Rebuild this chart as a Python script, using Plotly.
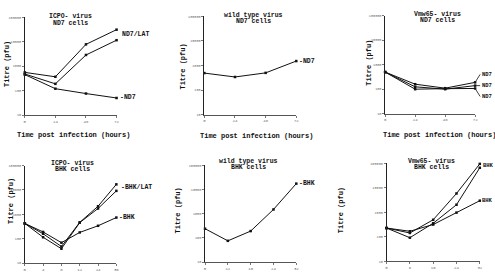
import math
import plotly.graph_objects as go

W, H = 495, 275

# ---------------- data ----------------
# top row: x in hours
tl_x = [0, 24, 48, 72]
tl_lat_a = [560, 370, 7900, 31600]
tl_lat_b = [480, 190, 2900, 11700]
tl_nd7 = [455, 120, 76, 50]

tm_x = [0, 24, 48, 72]
tm_nd7 = [490, 340, 500, 1510]

tr_x = [0, 24, 48, 72]
tr_a = [500, 160, 110, 190]
tr_b = [500, 125, 100, 140]
tr_c = [500, 100, 105, 107]

# bottom row: evenly spaced time points
bl_labels = ["0", "4", "8", "12", "24", "36"]
bl_lat_a = [425, 160, 48, 470, 2150, 17000]
bl_lat_b = [425, 115, 39, 460, 1740, 9200]
bl_bhk = [425, 190, 69, 182, 340, 740]

bm_labels = ["0", "12", "16", "24", "32"]
bm_bhk = [240, 76, 192, 1500, 17500]

br_labels = ["0", "8", "16", "24", "32"]
br_a = [230, 145, 500, 5900, 95000]
br_b = [230, 93, 360, 2050, 66000]
br_bhk = [230, 170, 320, 980, 3000]

y_ticks = [10, 100, 1000, 10000, 100000]
y_text = ["10", "100", "1000", "10000", "100000"]

FONT = "Liberation Mono"
INK = "#111111"

fig = go.Figure()


def dxd(a, b):
    return [a / W, b / W]


def dyd(top, bottom):
    return [1 - bottom / H, 1 - top / H]


panels = [
    ("", (24, 116.5), (15.7, 114.7), [0, 72], tl_x, [str(v) for v in tl_x]),
    ("2", (205, 297.7), (14.5, 114.3), [0, 72], tm_x, [str(v) for v in tm_x]),
    ("3", (387.3, 478), (14, 113.3), [0, 72], tr_x, [str(v) for v in tr_x]),
    ("4", (24, 116.3), (166, 265), [0, len(bl_labels) - 1], list(range(len(bl_labels))), bl_labels),
    ("5", (205.7, 297.7), (165.7, 264), [0, len(bm_labels) - 1], list(range(len(bm_labels))), bm_labels),
    ("6", (388.7, 482.7), (163.7, 263.3), [0, len(br_labels) - 1], list(range(len(br_labels))), br_labels),
]

layout_axes = {}
for name, (xa, xb), (yt, yb), xr, tv, tt in panels:
    layout_axes["xaxis" + name] = dict(
        domain=dxd(xa, xb), range=xr, anchor="y" + name, tickvals=tv, ticktext=tt,
        showline=True, linecolor="#555", linewidth=1, ticks="outside", ticklen=2,
        tickcolor="#777", showgrid=False, zeroline=False,
        tickfont=dict(size=4, color="#666", family=FONT),
    )
    layout_axes["yaxis" + name] = dict(
        domain=dyd(yt, yb), type="log", range=[1, 5], anchor="x" + name,
        tickvals=y_ticks, ticktext=y_text,
        showline=True, linecolor="#222", linewidth=1, ticks="outside", ticklen=2,
        tickcolor="#777", showgrid=False, zeroline=False,
        tickfont=dict(size=3.5, color="#666", family=FONT),
    )


def add_line(x, y, ax):
    fig.add_trace(go.Scatter(
        x=x, y=y, mode="lines+markers", xaxis="x" + ax, yaxis="y" + ax,
        line=dict(color=INK, width=1), marker=dict(size=2.5, color=INK, symbol="square"),
        cliponaxis=False, showlegend=False, hoverinfo="skip"))


add_line(tl_x, tl_lat_a, "")
add_line(tl_x, tl_lat_b, "")
add_line(tl_x, tl_nd7, "")
add_line(tm_x, tm_nd7, "2")
add_line(tr_x, tr_a, "3")
add_line(tr_x, tr_b, "3")
add_line(tr_x, tr_c, "3")
bl_x = list(range(len(bl_labels)))
add_line(bl_x, bl_lat_a, "4")
add_line(bl_x, bl_lat_b, "4")
add_line(bl_x, bl_bhk, "4")
bm_x = list(range(len(bm_labels)))
add_line(bm_x, bm_bhk, "5")
br_x = list(range(len(br_labels)))
add_line(br_x, br_a, "6")
add_line(br_x, br_b, "6")
add_line(br_x, br_bhk, "6")

ann = []
shapes = []


def fnt(size):
    return dict(family=FONT, size=size, color=INK, weight="bold")


def paper_text(x, y, text, size=7, angle=0):
    ann.append(dict(xref="paper", yref="paper", x=x / W, y=1 - y / H, text=text,
                    showarrow=False, textangle=angle, xanchor="center", yanchor="middle",
                    font=fnt(size)))


# panel titles
for cx, y1, y2, l1, l2 in [
    (70, 15, 21.7, "ICPO- virus", "ND7 cells"),
    (255, 13.7, 20, "wild type virus", "ND7 cells"),
    (440, 12.7, 18.5, "Vmw65- virus", "ND7 cells"),
    (72, 164.3, 170, "ICPO- virus", "BHK cells"),
    (250, 161.7, 167.7, "wild type virus", "BHK cells"),
    (434, 161.7, 168, "Vmw65- virus", "BHK cells"),
]:
    paper_text(cx, y1, l1, size=6.5)
    paper_text(cx, y2, l2, size=6.5)

# y-axis titles
for x, y in [(6, 63), (184, 66), (370.7, 62), (10, 202), (178, 212), (343, 211)]:
    paper_text(x, y, "Titre (pfu)", size=7, angle=-90)

# x-axis titles (top row)
for x, y in [(73, 135), (258, 136), (442, 135)]:
    paper_text(x, y, "Time post infection (hours)", size=7)


def end_label(ax, x, y, text, dx=3, size=6.5):
    ann.append(dict(xref="x" + ax, yref="y" + ax, x=x, y=math.log10(y),
                    text=text, showarrow=False, xanchor="left", yanchor="middle",
                    xshift=dx, font=fnt(size)))


def bracket(ax, x, ya, yb):
    shapes.append(dict(type="line", xref="x" + ax, yref="y" + ax, x0=x, x1=x,
                       y0=ya, y1=yb, line=dict(color=INK, width=1)))


# top-left labels
bracket("", tl_x[-1] + 2, tl_lat_a[-1] * 1.3, tl_lat_b[-1] / 1.3)
end_label("", tl_x[-1], math.sqrt(tl_lat_a[-1] * tl_lat_b[-1]), "ND7/LAT", dx=3.5)
end_label("", tl_x[-1], tl_nd7[-1], "-ND7", dx=1)
# top-middle
end_label("2", tm_x[-1], tm_nd7[-1], "-ND7", dx=1)
# top-right with leader lines
for yv, text, ay in [(tr_a[-1], "ND7", -8), (tr_b[-1], "ND7", 0), (tr_c[-1], "ND7", 8)]:
    ann.append(dict(xref="x3", yref="y3", x=tr_x[-1], y=math.log10(yv), text=text,
                    showarrow=True, arrowhead=0, arrowwidth=0.8, arrowcolor=INK,
                    ax=5, ay=ay, xanchor="left", yanchor="middle", standoff=1,
                    font=fnt(5.5)))
# bottom-left
bracket("4", bl_x[-1] + 0.15, bl_lat_a[-1] * 1.2, bl_lat_b[-1] / 1.2)
end_label("4", bl_x[-1], math.sqrt(bl_lat_a[-1] * bl_lat_b[-1]), "-BHK/LAT", dx=3)
end_label("4", bl_x[-1], bl_bhk[-1], "-BHK", dx=1)
# bottom-middle
end_label("5", bm_x[-1], bm_bhk[-1], "-BHK", dx=1)
# bottom-right
bracket("6", br_x[-1] + 0.05, br_a[-1] * 1.1, br_b[-1] / 1.1)
end_label("6", br_x[-1], math.sqrt(br_a[-1] * br_b[-1]), "BHK", dx=1.5, size=5.5)
end_label("6", br_x[-1], br_bhk[-1], "BHK", dx=0, size=5.5)

fig.update_layout(
    width=W, height=H, margin=dict(l=0, r=0, t=0, b=0),
    paper_bgcolor="white", plot_bgcolor="white", showlegend=False,
    annotations=ann, shapes=shapes, font=dict(family=FONT), **layout_axes)

fig.write_html("out.html")
